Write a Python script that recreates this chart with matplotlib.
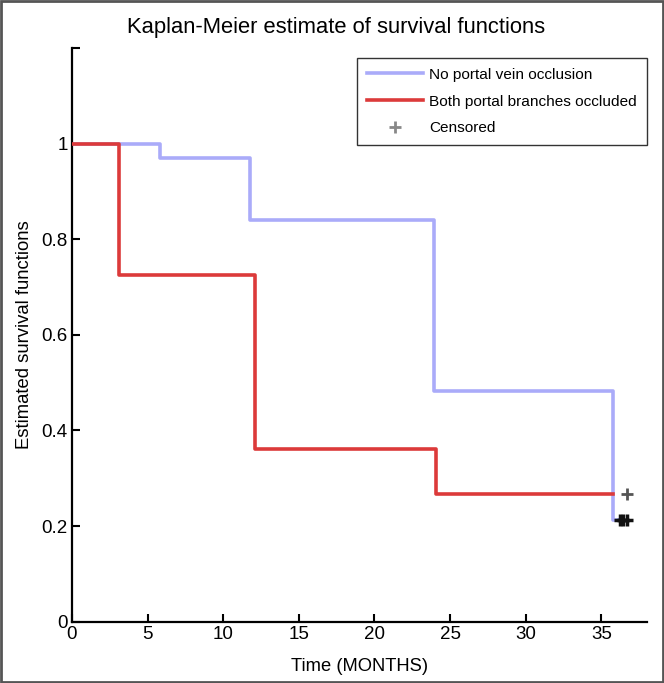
import matplotlib
matplotlib.use("Agg")
import matplotlib.pyplot as plt
from matplotlib.patches import Rectangle

plt.rcParams['font.family'] = ['Liberation Sans', 'DejaVu Sans']

# Data
time_none = [0, 5.8, 11.8, 23.95, 35.8, 36.2]
surv_none = [1.0, 0.97, 0.84, 0.483, 0.213, 0.213]
time_both = [0, 3.1, 12.1, 24.05, 35.8]
surv_both = [1.0, 0.725, 0.361, 0.267, 0.267]
cens_none_t = [36.2, 36.45, 36.7]
cens_none_s = [0.213, 0.213, 0.213]
cens_both_t = [36.7]
cens_both_s = [0.267]
xticks = [0, 5, 10, 15, 20, 25, 30, 35]
yticks = [0, 0.2, 0.4, 0.6, 0.8, 1.0, 1.2]
ytick_labels = ['0', '0.2', '0.4', '0.6', '0.8', '1', '']

blue = '#aaabf9'
red = '#dc3a3a'

fig = plt.figure(figsize=(6.64, 6.83), dpi=100)
ax = fig.add_axes([0.1084, 0.0897, 0.974 - 0.1084, 0.9297 - 0.0897])

l1, = ax.step(time_none, surv_none, where='post', color=blue, lw=2.6,
              label='No portal vein occlusion', zorder=2)
l2, = ax.step(time_both, surv_both, where='post', color=red, lw=2.6,
              label='Both portal branches occluded', zorder=3)
ax.plot(cens_both_t, cens_both_s, '+', color='#555555', ms=9, mew=2.0, zorder=4)
ax.plot(cens_none_t, cens_none_s, '+', color='#111111', ms=9, mew=2.5, zorder=4)
m_leg, = ax.plot([], [], '+', color='#888888', ms=9, mew=2.0, label='Censored')

ax.set_xlim(0, 38)
ax.set_ylim(0, 1.2)
ax.set_xticks(xticks)
ax.set_xticklabels([str(t) for t in xticks])
ax.set_yticks(yticks)
ax.set_yticklabels(ytick_labels)
ax.tick_params(direction='in', length=6, width=1.5, labelsize=13.5, pad=3)

for s in ['top', 'right']:
    ax.spines[s].set_visible(False)
for s in ['left', 'bottom']:
    ax.spines[s].set_linewidth(1.6)

ax.set_xlabel('Time (MONTHS)', fontsize=13.2, labelpad=11)
ax.set_ylabel('Estimated survival functions', fontsize=13.3, labelpad=6)

fig.text(336 / 664, 1 - 27 / 683, 'Kaplan-Meier estimate of survival functions',
         ha='center', va='center', fontsize=15.8)

leg = ax.legend(handles=[l1, l2, m_leg], loc='upper right',
                bbox_to_anchor=(1.0, 0.983), borderaxespad=0, fontsize=11.1,
                frameon=True, fancybox=False, edgecolor='black',
                handlelength=3.6, borderpad=0.65, labelspacing=0.83,
                handletextpad=0.4)
leg.get_frame().set_linewidth(1.0)

fig.patches.append(Rectangle((0.002, 0.002), 0.996, 0.996, transform=fig.transFigure,
                             fill=False, edgecolor='#555555', lw=2.0))

fig.savefig('out.png', dpi=100)
